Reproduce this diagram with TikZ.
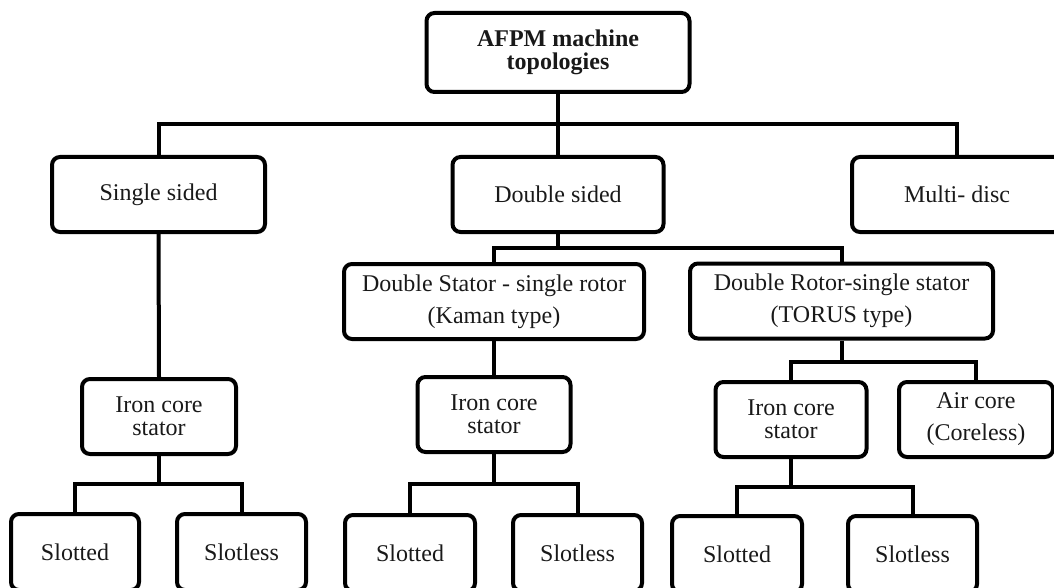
\documentclass[tikz,border=0pt]{standalone}
\usepackage{fontspec}
\setmainfont{Liberation Serif}
\begin{document}
\begin{tikzpicture}[x=1pt,y=-1pt,
  box/.style={draw=black, line width=4pt, rounded corners=8pt, align=center,
    inner sep=0pt, minimum height=75pt, text=black!90},
  onel/.style={font=\fontsize{24}{28}\selectfont},
  tight/.style={font=\fontsize{24}{23}\selectfont},
  loose/.style={font=\fontsize{24}{32}\selectfont},
  conn/.style={draw=black, line width=4pt}]
\useasboundingbox (0,0) rectangle (1054,588);
\clip (0,0) rectangle (1054,588);
% level 0
\node[box, font=\bfseries\fontsize{24}{23}\selectfont, minimum width=263pt, minimum height=79pt] (top) at (558,52.5) {AFPM machine\\topologies};
% level 1
\node[box, onel, minimum width=213pt] (ss) at (158.5,194.5) {Single sided};
\node[box, onel, minimum width=211pt] (ds) at (558,194.5) {Double sided};
\node[box, onel, minimum width=210pt] (md) at (957,194.5) {Multi- disc};
% level 2
\node[box, loose, minimum width=300pt] (kam) at (494,301.5) {Double Stator - single rotor\\(Kaman type)};
\node[box, loose, minimum width=303pt] (tor) at (841.5,301) {Double Rotor-single stator\\(TORUS type)};
% level 3
\node[box, tight, minimum width=154pt] (ic1) at (159,416.5) {Iron core\\stator};
\node[box, tight, minimum width=153pt] (ic2) at (494,414.5) {Iron core\\stator};
\node[box, tight, minimum width=151pt] (ic3) at (791,419.5) {Iron core\\stator};
\node[box, loose, minimum width=154pt] (air) at (976,419.5) {Air core\\(Coreless)};
% level 4
\node[box, onel, minimum width=128pt, minimum height=76pt] (s1) at (75,552) {Slotted};
\node[box, onel, minimum width=129pt, minimum height=76pt] (l1) at (241.5,552) {Slotless};
\node[box, onel, minimum width=130pt, minimum height=76pt] (s2) at (410,553) {Slotted};
\node[box, onel, minimum width=129pt, minimum height=76pt] (l2) at (577.5,553) {Slotless};
\node[box, onel, minimum width=130pt, minimum height=76pt] (s3) at (737,554) {Slotted};
\node[box, onel, minimum width=129pt, minimum height=76pt] (l3) at (912.5,554) {Slotless};
% junction points
\coordinate (j0) at (558,124);
\coordinate (j1) at (558,248);
\coordinate (j2) at (841.5,362);
\coordinate (j3) at (159,484);
\coordinate (j4) at (494,484);
\coordinate (j5) at (791,487);
% connectors
\draw[conn] (top.south) -- (ds.north);
\draw[conn] (ss.north) |- (j0) -| (md.north);
\draw[conn] (ds.south) -- (j1);
\draw[conn] (kam.north) |- (j1) -| (tor.north);
\draw[conn] (ss.south) -- (ic1.north);
\draw[conn] (kam.south) -- (ic2.north);
\draw[conn] (tor.south) -- (j2);
\draw[conn] (ic3.north) |- (j2) -| (air.north);
\draw[conn] (ic1.south) -- (j3);
\draw[conn] (s1.north) |- (j3) -| (l1.north);
\draw[conn] (ic2.south) -- (j4);
\draw[conn] (s2.north) |- (j4) -| (l2.north);
\draw[conn] (ic3.south) -- (j5);
\draw[conn] (s3.north) |- (j5) -| (l3.north);
\end{tikzpicture}
\end{document}
